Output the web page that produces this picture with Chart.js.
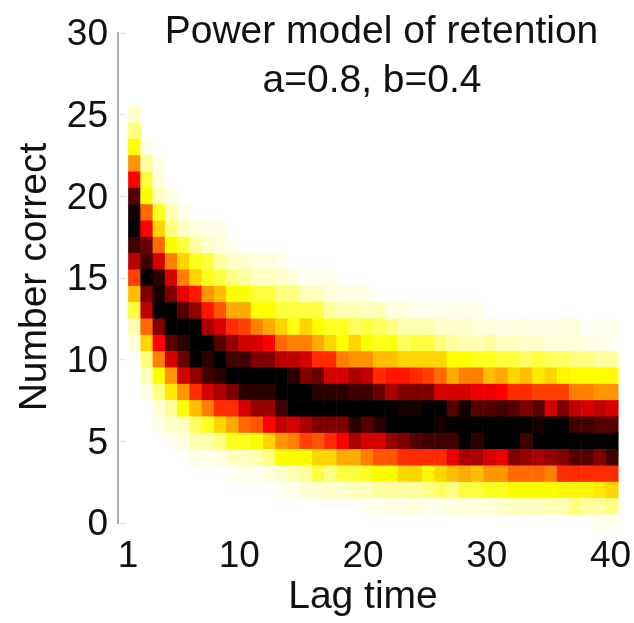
<!DOCTYPE html>
<html><head><meta charset="utf-8">
<style>html,body{margin:0;padding:0;background:#fff}#w{position:absolute;left:0;top:0;width:634px;height:623px}canvas{filter:blur(0.7px)}</style>
<script src="https://cdn.jsdelivr.net/npm/chart.js@4"></script></head>
<body><div id="w"><canvas id="c" width="634" height="623"></canvas></div>
<script>
const titleLines = ["Power model of retention", "a=0.8, b=0.4"];
const xLabel = "Lag time";
const yLabel = "Number correct";
const xTickValues = [1, 10, 20, 30, 40];
const yTickValues = [0, 5, 10, 15, 20, 25, 30];
const columns = Array.from({length: 40}, (_, i) => i + 1);
// Cell darkness, 0 = white ... 16 = black. One list per "number correct", columns 1..40.
const row25 = [.8];
const row24 = [2];
const row23 = [4,.4];
const row22 = [6.5,1.5,.4];
const row21 = [10,3,.5];
const row20 = [14,4,1,.4];
const row19 = [15.5,7.5,3.5,1.2,.4];
const row18 = [16,10,5,2,1,.6,.4,.4];
const row17 = [14.5,13.5,7.5,4,3,1.5,.8,.6,.3];
const row16 = [11.5,14.5,11,7,5,3.5,3,1.5,1,.8,.6,.5,.3];
const row15 = [8.5,16,15,11,7,5,3.5,3,2,1.5,1,1,.8,.6,.2,.3,.3];
const row14 = [5.5,13,15.5,13,10.5,9.5,6.5,5.5,4,4,3,3,2,2,1,1,.6,.4,.4,.4];
const row13 = [3,11.5,16,16,14,12.5,9.5,8,6,6,4,4,3,3,3,3,1.5,1.2,1.2,1,1.2,.5,.5,.3,.3,.3,.3,.3,.3];
const row12 = [1.2,7.5,13,16,16,16,12,11,9,8.5,7,6,5,3.8,5,4,3.5,3.5,2.5,3,2.5,2,1.2,1.2,1.2,.8,.7,.8,.6,.6,.4,.4,.5,.4,.4,.5,.5,.1,.3,.3];
const row11 = [.5,5,10,14,15,16,16,14,12.5,11,11,10,7.5,7,7,6,5,4,5,4,3.5,3.8,2.5,3,3,2,1.5,1.2,1.2,1.5,1,1,.8,.8,.6,.6,.6,.4,.4,.2];
const row10 = [0,2,7,11,13.5,16,15,16,14.5,14.5,13,13,11.5,11.5,11,9,9,7,6.5,6.5,5.5,5.5,5,5,5,5,4,4,3.5,3.5,3,3,2.5,3,2.5,2.5,2,2,1.5,1.5];
const row9 = [0,1,4,6.5,11,12.5,14.5,15,16,16,16,16,16,15,13,13.5,11,11,12,11.5,9,9.5,9.5,9,8.5,7.5,6,7,7,5.5,6,5,5.5,4.5,5,4.2,4,4,4,4];
const row8 = [0,.4,2,4.5,6.5,9,11,12,13,15,15,15,16,16,16,15,15,15,14.5,14.5,13.5,12,13,13,13,11,11,11,10.5,10.5,10,9,9,8.5,8.5,8.5,7,7,6.5,6.5];
const row7 = [0,0,.7,1.5,4,5.5,7,9,9,11,12.5,12.5,14.5,16,16,16,16,16,16,16,16,16,15.5,15.5,16,16,14,15.5,14,14,14.5,14,13,14,11,13,11.5,11,11.5,11];
const row6 = [0,0,.4,.8,1,2.5,3.5,5,6,7.5,8,10,11.5,11,12,13,13,13,15,14,15,16,16,16,16,15.5,16,16,16,16,16,16,16,15.5,16,16,14.5,14.5,14,14];
const row5 = [0,0,0,.3,.5,1.2,1.2,2,3.5,3.5,4,5,6.5,7,8.5,8,9,10,12,11,11,12.5,13,14,14.5,14.5,14.5,16,15,16,16,16,14.5,16,16,16,16,16,16,16];
const row4 = [0,0,0,0,0,.4,.3,.4,1,1,1.2,2,4,4,4,5,5,6,6,7,8,8,9,9,9,9,10.5,12,12,11,10.5,13,12.5,12,12.5,13,14,14,13,14.5];
const row3 = [0,0,0,0,0,0,0,0,.2,.3,.3,.6,.8,1.2,1.5,3,2,3,3,3.5,4,4,5,5,4.2,5,5.5,6,5.5,6.5,6.5,7.5,7.5,7.5,7,9,9,9,9,9];
const row2 = [0,0,0,0,0,0,0,0,0,0,0,0,.2,.3,.7,.7,.8,.8,1,1,1.5,1.5,1.5,1.5,1.8,2.5,2,3,3,3.5,3.5,4,4,4,4,4.2,4.2,4.2,4.5,5];
const row1 = [0,0,0,0,0,0,0,0,0,0,0,0,0,0,0,0,0,0,0,.3,.3,.4,.4,.6,.3,.4,.5,.6,.6,.6,.8,1,1,1,1.2,1.2,2,1.5,1.5,2];
const row0 = [0,0,0,0,0,0,0,0,0,0,0,0,0,0,0,0,0,0,0,0,0,0,0,0,0,0,0,0,0,0,0,0,0,0,0,0,0,0,.3,.3];
const rowsByValue = [row0,row1,row2,row3,row4,row5,row6,row7,row8,row9,row10,row11,row12,row13,row14,row15,row16,row17,row18,row19,row20,row21,row22,row23,row24,row25];

function hotColor(level){
  const t = level / 16;
  const b = Math.max(0, 1 - t / .25);
  const g = t < .25 ? 1 : Math.max(0, 1 - (t - .25) / .375);
  const r = t < .625 ? 1 : Math.max(0, 1 - (t - .625) / .375);
  return `rgb(${Math.round(r*255)},${Math.round(g*255)},${Math.round(b*255)})`;
}
const datasets = rowsByValue.map((vals, rowValue) => ({
  label: "Number correct " + rowValue,
  xAxisID: "x", yAxisID: "y",
  clip: false,
  data: columns.filter((_, i) => (vals[i] || 0) > 0).map(c => ({x: c, y: [rowValue - .5, rowValue + .5]})),
  backgroundColor: columns.filter((_, i) => (vals[i] || 0) > 0).map(c => hotColor(vals[c - 1])),
  borderWidth: 0,
  barPercentage: 1, categoryPercentage: 1, grouped: false
}));
const FONT = "Liberation Sans, Arial, sans-serif";
const textPlugin = {
  id: "textPlugin",
  afterDraw(chart){
    const g = chart.ctx; g.save();
    g.fillStyle = "#111"; g.textAlign = "center"; g.textBaseline = "alphabetic";
    g.font = "39px " + FONT;
    g.fillText(titleLines[0], 381.5, 43);
    g.fillText(titleLines[1], 372, 92);
    g.fillText(xLabel, 363, 608);
    g.translate(46, 277); g.rotate(-Math.PI / 2);
    g.fillText(yLabel, 0, 0);
    g.restore();
  }
};
new Chart(document.getElementById("c"), {
  type: "bar",
  data: {datasets},
  plugins: [textPlugin],
  options: {
    responsive: false, animation: false, maintainAspectRatio: false,
    layout: {padding: {left: 0, right: 14, top: 33, bottom: 0}},
    plugins: {legend: {display: false}, tooltip: {enabled: false}},
    scales: {
      x: {type: "linear", bounds: "data", display: false, min: -0.349, max: 40.64, offset: false},
      xTicks: {
        type: "linear", bounds: "data", axis: "x", position: "bottom", min: 0.19, max: 40.77, offset: false,
        afterBuildTicks: s => { s.ticks = xTickValues.map(v => ({value: v})); },
        afterFit: s => { s.height = 100; s.paddingLeft = 0; s.paddingRight = 0; },
        border: {display: false}, grid: {display: false, drawTicks: false},
        ticks: {color: "#111", font: {size: 37, family: FONT}, maxRotation: 0, padding: 12, autoSkip: false, callback: v => String(v)}
      },
      y: {
        type: "linear", min: 0, max: 30, position: "left",
        afterBuildTicks: s => { s.ticks = yTickValues.map(v => ({value: v})); },
        afterFit: s => { s.width = 118; s.paddingTop = 0; s.paddingBottom = 0; },
        border: {display: true, color: "#ababab", width: 2},
        grid: {drawOnChartArea: false, drawTicks: true, tickLength: -8, color: "#f3e4e6", tickWidth: 1.5},
        ticks: {color: "#111", font: {size: 37, family: FONT}, padding: 18, labelOffset: 2, autoSkip: false, callback: v => String(v)}
      }
    }
  }
});
</script></body></html>
